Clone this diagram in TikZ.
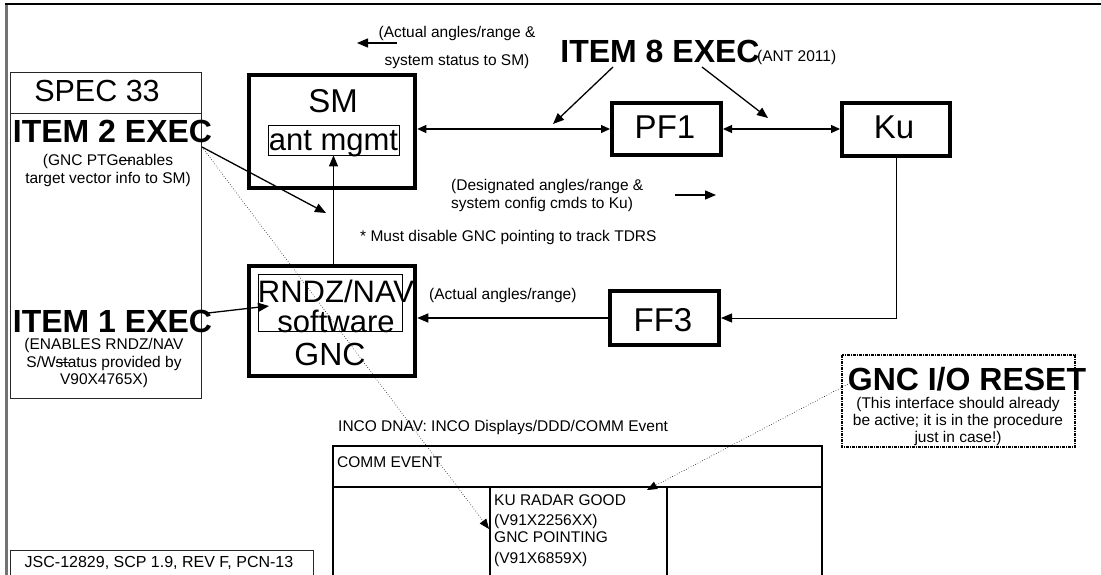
\documentclass[tikz,border=0pt]{standalone}
\usepackage{fontspec}
\setmainfont{Liberation Sans}
\usetikzlibrary{arrows.meta}
\newcommand\strk{\rlap{\rule[0.27em]{0.85em}{0.07em}}}
\begin{document}
\begin{tikzpicture}[x=1pt,y=-1pt,
  bigbox/.style={draw, line width=4.5pt, inner sep=0pt},
  thinbox/.style={draw, line width=0.8pt, inner sep=0pt},
  plainbox/.style={draw, black!85, line width=0.9pt, inner sep=0pt},
  lbl/.style={inner sep=0pt, font=\fontsize{15.5}{18}\selectfont},
  big/.style={inner sep=0pt, font=\fontsize{33}{33}\selectfont},
  bold/.style={inner sep=0pt, font=\fontsize{32}{32}\selectfont\bfseries},
  arr/.style={line width=1.3pt, -{Triangle[length=11pt,width=9pt]}},
  darr/.style={line width=1.2pt, {Triangle[length=9pt,width=8pt]}-{Triangle[length=9pt,width=8pt]}},
  dotarr/.style={line width=0.6pt, dotted, -{Triangle[length=10pt,width=8pt]}},
  tbl/.style={line width=1.3pt},
]
\useasboundingbox (0,0) rectangle (1101,575);
\fill[white] (0,0) rectangle (1101,575);

% frame
\draw[black!55, line width=2.5pt] (6.5,4) -- (6.5,575);
\draw[line width=1.3pt] (5,4) -- (1101,4);

% SPEC 33 panel
\node[plainbox, minimum width=191pt, minimum height=41pt] (spechead) at (105.5,92.5) {};
\node[plainbox, minimum width=191pt, minimum height=285pt] (specbody) at (105.5,255.5) {};
\node[inner sep=0pt, font=\fontsize{30.5}{30.5}\selectfont, anchor=base] (spect) at (97,102) {SPEC 33};
\node[bold, anchor=base] (item2) at (112.5,143) {ITEM 2 EXEC};
\node[lbl, align=center] (item2t) at (108,170) {(GNC PTG\strk enables\\target vector info to SM)};
\node[bold, anchor=base] (item1) at (112.5,332) {ITEM 1 EXEC};
\node[lbl, align=center, font=\fontsize{15.5}{17.5}\selectfont] (item1t) at (104,363) {(ENABLES RNDZ/NAV\\S/W\strk status provided by\\V90X4765X)};

% SM
\node[bigbox, minimum width=166pt, minimum height=113pt] (sm) at (332,131.5) {};
\node[big, anchor=base] (smt) at (333,113) {SM};
\node[thinbox, minimum width=131pt, minimum height=30pt] (smint) at (333.5,140) {};
\node[big, anchor=base, font=\fontsize{31}{31}\selectfont] (smintt) at (333.5,151) {ant mgmt};

% PF1, Ku
\node[bigbox, line width=4pt, minimum width=109pt, minimum height=52pt] (pf1) at (666.5,129) {};
\node[big, anchor=base] (pf1t) at (665,139) {PF1};
\node[bigbox, line width=4pt, minimum width=108pt, minimum height=53pt] (ku) at (896,130) {};
\node[big, anchor=base] (kut) at (894,139) {Ku};

% FF3
\node[bigbox, line width=4pt, minimum width=109pt, minimum height=54pt] (ff3) at (664.5,318) {};
\node[big, anchor=base] (ff3t) at (663,331) {FF3};

% GNC
\node[bigbox, minimum width=166pt, minimum height=110pt] (gnc) at (332,321) {};
\node[thinbox, minimum width=144pt, minimum height=57pt] (gncint) at (330,302.5) {};
\node[big, anchor=base, font=\fontsize{31}{31}\selectfont] (g1) at (336,302) {RNDZ/NAV};
\node[big, anchor=base, font=\fontsize{31}{31}\selectfont] (g2) at (336,332) {software};
\node[big, anchor=base, font=\fontsize{32}{32}\selectfont] (g3) at (330,365) {GNC};

% texts
\node[lbl, align=center, font=\fontsize{15.5}{28}\selectfont] (acttop) at (457,47) {(Actual angles/range \&\\system status to SM)};
\node[bold, anchor=base] (item8) at (660,63) {ITEM 8 EXEC};
\node[lbl, anchor=base west] (ant) at (757,62) {(ANT 2011)};
\node[lbl, align=left, anchor=west] (desig) at (451,195) {(Designated angles/range \&\\system config cmds to Ku)};
\node[lbl, anchor=west] (must) at (360,237) {* Must disable GNC pointing to track TDRS};
\node[lbl, anchor=west] (actff) at (429,295) {(Actual angles/range)};
\node[lbl, anchor=west] (inco) at (338,427) {INCO DNAV: INCO Displays/DDD/COMM Event};

% GNC I/O RESET
\draw[line width=1.2pt, dash pattern=on 3pt off 1pt on 1pt off 1pt] (842,355) rectangle (1075,447);
\node[bold, anchor=base] (reset) at (967,390) {GNC I/O RESET};
\node[lbl, align=center, font=\fontsize{15.5}{17}\selectfont] (resett) at (958,421) {(This interface should already\\be active; it is in the procedure\\just in case!)};

% COMM EVENT table
\draw[tbl] (333,575) |- (822,446) -- (822,575);
\draw[line width=2.2pt] (333,487) -- (822,487);
\draw[tbl] (490,487) -- (490,575);
\draw[tbl] (667,487) -- (667,575);
\node[lbl, anchor=west] (comm) at (337,462) {COMM EVENT};
\node[lbl, anchor=west] (k1) at (494,500) {KU RADAR GOOD};
\node[lbl, anchor=west] (k2) at (494,521) {(V91X2256XX)};
\node[lbl, anchor=west] (k3) at (494,537) {GNC POINTING};
\node[lbl, anchor=west] (k4) at (494,559) {(V91X6859X)};

% JSC
\draw[black!85, line width=0.9pt] (10,575) |- (313,550) -- (313,575);
\node[lbl, font=\fontsize{16}{18}\selectfont] (jsc) at (159,563) {JSC-12829, SCP 1.9, REV F, PCN-13};

% coordinates for free ends
\coordinate (i2s) at (202,147);
\coordinate (i2e) at (326,213);
\coordinate (i1s) at (208,313);
\coordinate (i1e) at (269,306);
\coordinate (i8a) at (613,67);
\coordinate (i8ae) at (553,124);
\coordinate (i8b) at (702,67);
\coordinate (i8be) at (768,118);
\coordinate (ltA) at (397,43);
\coordinate (ltB) at (357,43);
\coordinate (rtA) at (675,195);
\coordinate (rtB) at (716,195);
\coordinate (gncpt) at (489,529);
\coordinate (rs) at (850,383);
\coordinate (kupt) at (647,490);

% connectors
\draw[darr] (sm.east |- pf1.west) -- (pf1.west);
\draw[darr] (pf1.east) -- (ku.west |- pf1.east);
\draw[line width=1pt, -{Triangle[length=11pt,width=9pt]}] (ku.south) |- (ff3.east);
\draw[arr] (ff3.west) -- (gnc.east |- ff3.west);
\draw[arr] (gnc.north -| smint.south) -- (smint.south);
\draw[arr] (i2s) -- (i2e);
\draw[arr] (i1s) -- (i1e);
\draw[arr] (i8a) -- (i8ae);
\draw[arr] (i8b) -- (i8be);
\draw[arr] (ltA) -- (ltB);
\draw[arr] (rtA) -- (rtB);
\draw[dotarr] (i2s) -- (gncpt);
\draw[dotarr] (rs) -- (kupt);
\end{tikzpicture}
\end{document}
